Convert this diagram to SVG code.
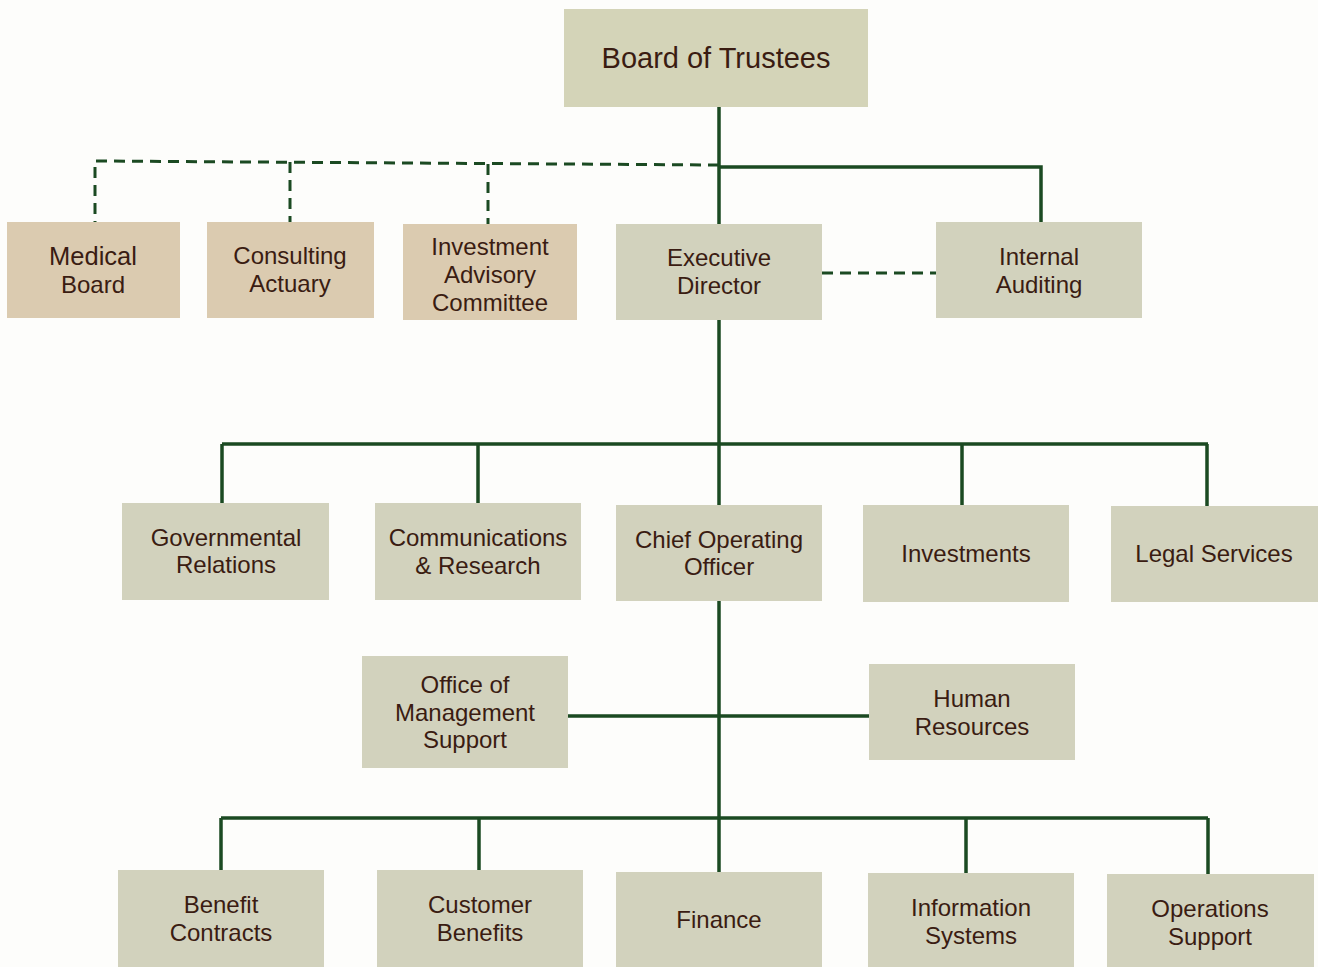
<svg xmlns="http://www.w3.org/2000/svg" width="1318" height="967" viewBox="0 0 1318 967">
<style>
.box{fill:#d2d2bd}
.tan{fill:#dbcbb0}
.top{fill:#d4d4b8}
text{font-family:"Liberation Sans",Arial,sans-serif;font-size:24px;fill:#3a1c12;text-anchor:middle}
.big{font-size:29px}
.med{font-size:25.5px}
.ln{stroke:#1b4a22;stroke-width:3.5;fill:none}
.dash{stroke:#1b4a22;stroke-width:3;fill:none;stroke-dasharray:11 7}
</style>
<rect width="1318" height="967" fill="#fdfdfb"/>
<g id="connectors">
<path class="ln" d="M719 107V224M719 167H1041V222"/>
<path class="dash" d="M719 165L95 161V222M290 162V222M488 164V226"/>
<path class="dash" d="M822 273H936"/>
<path class="ln" d="M719 320V505M222 444H1208M222 444V504M478 444V503M962 444V505M1207 444V507"/>
<path class="ln" d="M719 601V872M568 716H870"/>
<path class="ln" d="M221 818H1208M221 818V870M479 818V870M966 818V873M1208 818V874"/>
</g>
<g id="board"><rect class="top" x="564" y="9" width="304" height="98"/><text class="big" x="716" y="68">Board of Trustees</text></g>
<g id="medical"><rect class="tan" x="7" y="222" width="173" height="96"/><text class="med" x="93" y="265">Medical</text><text x="93" y="293">Board</text></g>
<g id="actuary"><rect class="tan" x="207" y="222" width="167" height="96"/><text x="290" y="264">Consulting</text><text x="290" y="292">Actuary</text></g>
<g id="iac"><rect class="tan" x="403" y="224" width="174" height="96"/><text x="490" y="255">Investment</text><text x="490" y="283">Advisory</text><text x="490" y="311">Committee</text></g>
<g id="exec"><rect class="box" x="616" y="224" width="206" height="96"/><text x="719" y="266">Executive</text><text x="719" y="294">Director</text></g>
<g id="audit"><rect class="box" x="936" y="222" width="206" height="96"/><text x="1039" y="265">Internal</text><text x="1039" y="293">Auditing</text></g>
<g id="gov"><rect class="box" x="122" y="503" width="207" height="97"/><text x="226" y="546">Governmental</text><text x="226" y="573">Relations</text></g>
<g id="comm"><rect class="box" x="375" y="503" width="206" height="97"/><text x="478" y="546">Communications</text><text x="478" y="574">&amp; Research</text></g>
<g id="coo"><rect class="box" x="616" y="505" width="206" height="96"/><text x="719" y="548">Chief Operating</text><text x="719" y="575">Officer</text></g>
<g id="invest"><rect class="box" x="863" y="505" width="206" height="97"/><text x="966" y="562">Investments</text></g>
<g id="legal"><rect class="box" x="1111" y="506" width="207" height="96"/><text x="1214" y="562">Legal Services</text></g>
<g id="oms"><rect class="box" x="362" y="656" width="206" height="112"/><text x="465" y="693">Office of</text><text x="465" y="721">Management</text><text x="465" y="748">Support</text></g>
<g id="hr"><rect class="box" x="869" y="664" width="206" height="96"/><text x="972" y="707">Human</text><text x="972" y="735">Resources</text></g>
<g id="benefit"><rect class="box" x="118" y="870" width="206" height="97"/><text x="221" y="913">Benefit</text><text x="221" y="941">Contracts</text></g>
<g id="customer"><rect class="box" x="377" y="870" width="206" height="97"/><text x="480" y="913">Customer</text><text x="480" y="941">Benefits</text></g>
<g id="finance"><rect class="box" x="616" y="872" width="206" height="95"/><text x="719" y="928">Finance</text></g>
<g id="info"><rect class="box" x="868" y="873" width="206" height="94"/><text x="971" y="916">Information</text><text x="971" y="944">Systems</text></g>
<g id="ops"><rect class="box" x="1107" y="874" width="207" height="93"/><text x="1210" y="917">Operations</text><text x="1210" y="945">Support</text></g>
</svg>
